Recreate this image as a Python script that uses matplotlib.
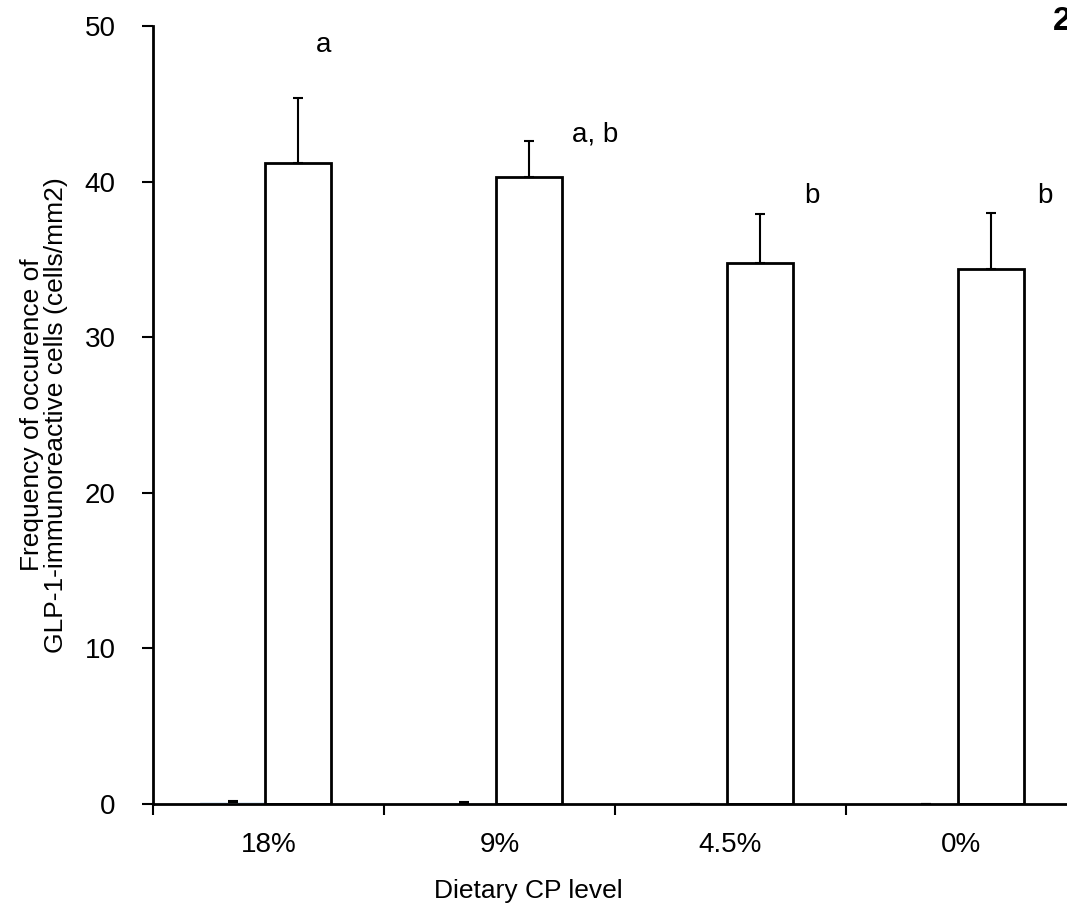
import matplotlib
matplotlib.use("Agg")
import matplotlib.pyplot as plt
import numpy as np

plt.rcParams['font.family'] = ['Liberation Sans', 'DejaVu Sans']

categories = ["18%", "9%", "4.5%", "0%"]
series_small = [0.10, 0.04, 0.0, 0.0]
series_small_err = [0.12, 0.06, 0.0, 0.0]
series_main = [41.2, 40.3, 34.8, 34.4]
series_main_err = [4.2, 2.3, 3.1, 3.6]
letters = ["a", "a, b", "b", "b"]
letter_pos = [(0.205, 48.8), (1.314, 43.0), (2.318, 39.1), (3.327, 39.1)]
yticks = [0, 10, 20, 30, 40, 50]

fig = plt.figure(figsize=(10.67, 9.16), dpi=100)
ax = fig.add_axes([153/1067, 1-804/916, 924/1067, (804-26)/916])

x = np.arange(len(categories))
w = 0.285
off = -0.013
ax.bar(x + off - w, series_small, width=w, align='edge', color='#dbe8f5',
       edgecolor='#dbe8f5', linewidth=0.5, zorder=2)
ax.errorbar(x + off - w/2, series_small, yerr=[np.zeros(4), series_small_err],
            fmt='none', ecolor='black', elinewidth=1.5, capsize=3.5, capthick=1.5, zorder=3)
ax.bar(x + off, series_main, width=w, align='edge', color='white',
       edgecolor='black', linewidth=2, zorder=2)
ax.errorbar(x + off + w/2, series_main, yerr=[np.zeros(4), series_main_err],
            fmt='none', ecolor='black', elinewidth=1.5, capsize=3.5, capthick=1.5, zorder=3)

for t, (lx, ly) in zip(letters, letter_pos):
    ax.text(lx, ly, t, fontsize=20, ha='left', va='center')

ax.set_xlim(-0.5, 3.5)
ax.set_ylim(0, 50)
ax.set_yticks(yticks)
ax.set_xticks(x)
ax.set_xticklabels(categories, fontsize=20)
ax.set_xticks(np.arange(-0.5, 4.0, 1.0), minor=True)
ax.tick_params(axis='x', which='major', length=0, pad=20)
ax.tick_params(axis='x', which='minor', length=8, width=1.5, direction='out')
ax.tick_params(axis='y', which='major', length=8, width=1.5, direction='out', labelsize=20, pad=19)
for s in ['top', 'right']:
    ax.spines[s].set_visible(False)
for s in ['left', 'bottom']:
    ax.spines[s].set_linewidth(2)
    ax.spines[s].set_zorder(4)

ax.set_ylabel("Frequency of occurence of\nGLP-1-immunoreactive cells (cells/mm2)", fontsize=19, labelpad=12, linespacing=1.0)
ax.set_xlabel("Dietary CP level", fontsize=19, labelpad=20)
ax.xaxis.set_label_coords(0.406, -0.096)

fig.text(1053/1067, 1-30/916, "2", fontsize=24, fontweight='bold', ha='left', va='baseline')

fig.savefig("out.png", dpi=100)
